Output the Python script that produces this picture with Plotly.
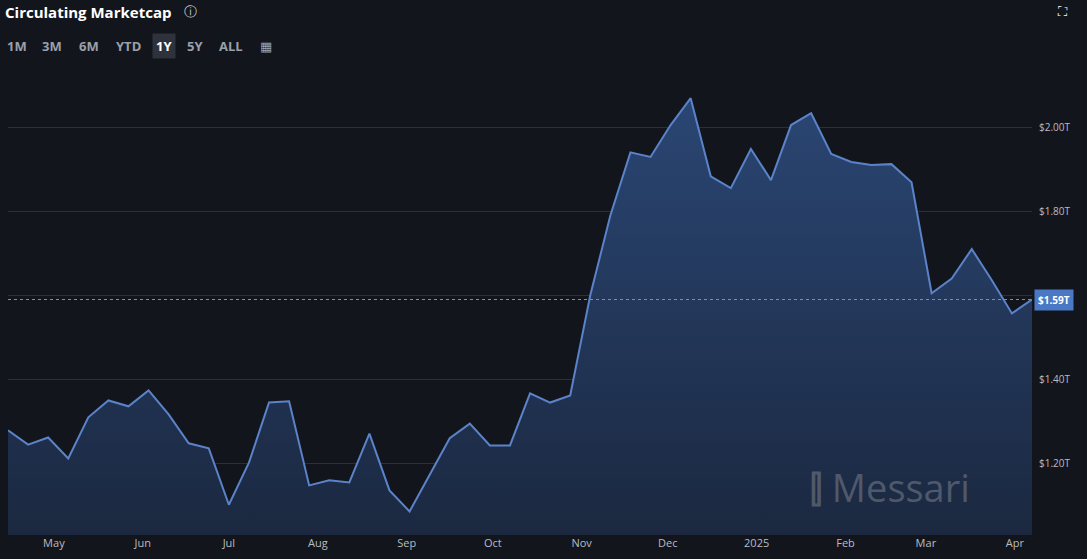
import plotly.graph_objects as go
import pandas as pd

dates = pd.date_range("2024-04-15", periods=52, freq="7D")
px_y = [430,444,437,458,417,400,406,390,414,443,448,504,462,402,401,485,480,482,433,490,511,474,438,423,445,445,393,402,395,295,215,152,157,125,98,176,188,149,180,125,113,154,162,165,164,182,293,278,249,280,313,297]
values = [round(2.0 - (p - 127) / 420, 3) for p in px_y]
values[-1] = 1.59
tick_vals = [1.2, 1.4, 1.6, 1.8, 2.0]
tick_text = ["$1.20T", "$1.40T", "", "$1.80T", "$2.00T"]
month_ticks = pd.date_range("2024-05-01", "2025-04-01", freq="MS")
month_labels = ["May","Jun","Jul","Aug","Sep","Oct","Nov","Dec","2025","Feb","Mar","Apr"]
buttons = ["1M", "3M", "6M", "YTD", "1Y", "5Y", "ALL"]

bg = "#13151c"
W, H = 1087, 559
ML, MR, MT, MB = 8, 55, 75, 24
fig = go.Figure()
fig.add_trace(go.Scatter(x=dates, y=values, mode="lines", line=dict(color="#5b83c9", width=2),
    fill="tozeroy", fillgradient=dict(type="vertical", colorscale=[[0, "rgba(22,27,40,1)"], [0.5, "rgba(27,40,64,1)"], [1, "rgba(42,70,115,1)"]]),
    hoverinfo="skip"))
fig.add_hline(y=values[-1], line=dict(color="#8a8f99", width=1, dash="dot"))
fig.update_layout(
    width=W, height=H, paper_bgcolor=bg, plot_bgcolor=bg, showlegend=False,
    margin=dict(l=ML, r=MR, t=MT, b=MB),
    font=dict(family="Open Sans", color="#b8bcc4"),
    xaxis=dict(showgrid=False, range=[dates[0], dates[-1]], tickvals=month_ticks, ticktext=month_labels,
               tickfont=dict(size=11, color="#b8bcc4"), zeroline=False, showline=False),
    yaxis=dict(side="right", range=[1.03, 2.124], tickvals=tick_vals, ticktext=tick_text,
               gridcolor="#2c2f38", tickfont=dict(size=10, color="#b8bcc4"), zeroline=False, ticks="", ticklabelstandoff=6),
)
pw, ph = W - ML - MR, H - MT - MB
def px(x): return (x - ML) / pw
def py(y): return (H - MB - y) / ph
fig.add_annotation(text="<b>Circulating Marketcap</b>", x=px(3), y=py(12), xref="paper", yref="paper", xanchor="left", yanchor="middle",
                   showarrow=False, font=dict(size=15, color="#ffffff"))
fig.add_annotation(text="ⓘ", x=px(182), y=py(11), xref="paper", yref="paper", xanchor="left", yanchor="middle",
                   showarrow=False, font=dict(size=13, color="#c8ccd4"))
fig.add_annotation(text="⛶", x=px(1062), y=py(11), xref="paper", yref="paper", xanchor="center", yanchor="middle",
                   showarrow=False, font=dict(size=13, color="#ffffff"))
bx = [17, 52, 89, 128, 164, 195, 231]
for b, x in zip(buttons, bx):
    sel = b == "1Y"
    fig.add_annotation(text="<b>%s</b>" % b, x=px(x), y=py(46), xref="paper", yref="paper", xanchor="center", yanchor="middle",
                       showarrow=False, font=dict(size=13, color="#ffffff" if sel else "#9aa0aa"),
                       bgcolor="#2e323b" if sel else None, borderpad=3)
fig.add_annotation(text="▦", x=px(266), y=py(46), xref="paper", yref="paper", xanchor="center", yanchor="middle",
                   showarrow=False, font=dict(size=13, color="#9aa0aa"))
fig.add_annotation(text="<b>$1.59T</b>", x=1.0, y=values[-1], xref="paper", yref="y", xanchor="left", yanchor="middle",
                   xshift=2, showarrow=False, font=dict(size=10, color="#ffffff"), bgcolor="#4a78c4", borderpad=3)
fig.add_annotation(text="<b>⫿</b> Messari", x=px(972), y=py(487), xref="paper", yref="paper", xanchor="right", yanchor="middle",
                   showarrow=False, font=dict(size=38, color="rgba(130,135,145,0.5)"))
fig.write_html("out.html", config={"displayModeBar": False})
with open("out.html") as f:
    s = f.read()
s = s.replace("<body>", '<body style="margin:0;background:#13151c">', 1)
with open("out.html", "w") as f:
    f.write(s)
